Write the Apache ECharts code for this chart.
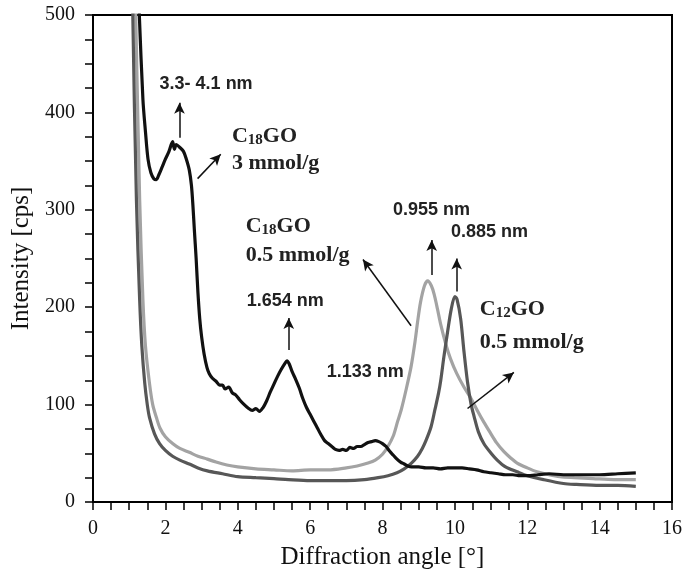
<!DOCTYPE html>
<html>
<head>
<meta charset="utf-8">
<script src="https://cdn.jsdelivr.net/npm/echarts@6/dist/echarts.min.js"></script>
<style>
html,body{margin:0;padding:0;background:#fff;}
#chart{width:685px;height:577px;}
</style>
</head>
<body>
<div id="chart"></div>
<script>
// ---- Data ----
// Black: C18GO 3 mmol/g
const blackX = [1.0,1.1,1.2,1.28,1.38,1.45,1.52,1.6,1.68,1.75,1.82,1.9,2.0,2.1,2.2,2.25,2.3,2.4,2.5,2.58,2.66,2.72,2.76,2.8,2.85,2.9,2.95,3.0,3.07,3.15,3.21,3.3,3.4,3.5,3.58,3.65,3.75,3.85,3.94,4.05,4.15,4.3,4.4,4.5,4.6,4.7,4.8,4.9,5.0,5.1,5.2,5.3,5.36,5.42,5.5,5.6,5.7,5.8,5.9,6.0,6.1,6.2,6.3,6.4,6.5,6.6,6.7,6.8,6.9,7.0,7.1,7.2,7.3,7.4,7.5,7.6,7.7,7.8,7.9,8.0,8.1,8.2,8.3,8.4,8.5,8.6,8.7,8.8,9.0,9.2,9.4,9.6,9.8,10.0,10.2,10.4,10.6,10.8,11.0,11.2,11.4,11.6,11.8,12.0,12.3,12.6,13.0,13.5,14.0,14.5,15.0];
const blackY = [750,700,580,500,413,380,352,338,332,331,336,343,352,360,370,362,367,364,360,352,341,325,305,280,250,215,188,170,152,138,132,127,124,120,120,116,118,112,110,105,101,96,94,96,93,97,104,113,121,129,136,142,145,142,134,126,117,106,97,90,83,76,69,63,60,57,54,53,54,53,56,55,57,57,59,61,62,63,62,60,57,52,48,44,41,39,37,36,36,35,35,34,35,35,35,34,33,31,30,29,28,28,27,27,28,29,28,28,28,29,30];

// Light grey: C18GO 0.5 mmol/g
const lightX = [1.0,1.1,1.18,1.29,1.38,1.45,1.56,1.65,1.75,1.85,2.0,2.2,2.4,2.66,2.9,3.16,3.4,3.7,4.0,4.5,5.0,5.5,6.0,6.5,7.0,7.3,7.6,7.8,8.0,8.15,8.3,8.42,8.52,8.65,8.79,8.9,8.97,9.05,9.16,9.25,9.35,9.43,9.52,9.61,9.75,9.88,10.05,10.25,10.45,10.62,10.8,10.98,11.15,11.35,11.55,11.72,12.0,12.27,12.6,12.9,13.3,13.82,14.4,15.0];
const lightY = [900,640,500,310,207,160,122,100,87,76,67,60,55,51,47,44,41,38,36,34,33,32,33,33,35,37,40,43,49,57,68,83,95,115,139,165,185,205,222,227,222,213,198,182,162,147,132,118,106,94,82,71,61,52,45,40,35,31,28,26,25,24,23,23];

// Dark grey: C12GO 0.5 mmol/g
const darkX = [1.0,1.1,1.2,1.29,1.35,1.43,1.5,1.56,1.7,1.84,2.0,2.2,2.4,2.66,2.9,3.16,3.58,4.0,4.5,5.0,5.4,6.0,6.5,7.0,7.5,7.88,8.15,8.4,8.6,8.8,8.97,9.1,9.2,9.34,9.45,9.55,9.61,9.7,9.8,9.9,10.0,10.06,10.16,10.25,10.35,10.45,10.53,10.65,10.8,11.0,11.17,11.4,11.72,12.0,12.45,13.0,13.36,14.0,14.5,15.0];
const darkY = [780,500,310,207,160,122,100,87,70,60,53,47,43,39,35,32,29,26,25,24,23,22,22,22,23,25,27,30,34,40,47,55,63,77,95,112,125,150,175,198,211,208,188,155,123,100,88,72,60,50,43,36,31,27,23,19,18,17,17,16];

// Axis ticks: tick step and labelled step
const xTicks = {min: 0, max: 16, tickStep: 0.5, labelStep: 2};
const yTicks = {min: 0, max: 500, tickStep: 25, labelStep: 100};

// Annotation texts: [text, xLeft, yMiddle, kind]
const annoTexts = [
  ['3.3- 4.1 nm', 1.84, 429, 'nm'],
  ['C{s|18}GO', 3.84, 375, 'name'],
  ['3 mmol/g', 3.84, 348, 'name'],
  ['C{s|18}GO', 4.22, 283, 'name'],
  ['0.5 mmol/g', 4.22, 253, 'name'],
  ['1.654 nm', 4.25, 206, 'nm'],
  ['1.133 nm', 6.46, 133, 'nm'],
  ['0.955 nm', 8.29, 300, 'nm'],
  ['0.885 nm', 9.89, 277, 'nm'],
  ['C{s|12}GO', 10.69, 198, 'name'],
  ['0.5 mmol/g', 10.69, 164, 'name']
];
// Annotation arrows: [x1, y1, x2, y2] (tail -> head)
const annoArrows = [
  [2.39, 374, 2.39, 410],
  [2.89, 332, 3.53, 357],
  [8.79, 181, 7.46, 249],
  [5.41, 156, 5.41, 189],
  [9.36, 233, 9.36, 269],
  [10.05, 216, 10.05, 250],
  [10.35, 96, 11.63, 133]
];

const pairs = (xs, ys) => xs.map((x, i) => [x, ys[i]]);

const serif = 'Liberation Serif, Times New Roman, serif';
const sans = 'Liberation Sans, Arial, sans-serif';

const chart = echarts.init(document.getElementById('chart'), null, {renderer: 'canvas'});

function labelEvery(step) {
  return function (v) {
    const r = v / step;
    return Math.abs(r - Math.round(r)) < 1e-6 ? String(Math.round(v * 1000) / 1000) : '';
  };
}

const axisCommon = {
  axisLine: {show: true, onZero: false, lineStyle: {color: '#000', width: 2}},
  axisTick: {show: true, inside: false, length: 8, lineStyle: {color: '#000', width: 1.5}},
  splitLine: {show: false}
};

const option = {
  animation: false,
  backgroundColor: '#fff',
  grid: {left: 93, right: 9, top: 15, bottom: 75, show: true, borderColor: '#000', borderWidth: 2, backgroundColor: 'transparent'},
  xAxis: Object.assign({
    type: 'value', min: xTicks.min, max: xTicks.max, interval: xTicks.tickStep,
    name: 'Diffraction angle [°]', nameLocation: 'middle', nameGap: 43,
    nameTextStyle: {fontFamily: serif, fontSize: 25, color: '#111'},
    axisLabel: {fontFamily: serif, fontSize: 20, color: '#111', margin: 17, formatter: labelEvery(xTicks.labelStep), showMinLabel: true, showMaxLabel: true}
  }, axisCommon),
  yAxis: Object.assign({
    type: 'value', min: yTicks.min, max: yTicks.max, interval: yTicks.tickStep,
    name: 'Intensity [cps]', nameLocation: 'middle', nameGap: 58,
    nameTextStyle: {fontFamily: serif, fontSize: 25, color: '#111'},
    axisLabel: {fontFamily: serif, fontSize: 20, color: '#111', margin: 18, formatter: labelEvery(yTicks.labelStep)}
  }, axisCommon),
  series: [
    {
      name: 'C18GO 0.5 mmol/g', type: 'line', data: pairs(lightX, lightY),
      showSymbol: false, symbol: 'none', smooth: 0.3, clip: true,
      lineStyle: {color: '#a3a3a3', width: 3.2}, z: 2
    },
    {
      name: 'C12GO 0.5 mmol/g', type: 'line', data: pairs(darkX, darkY),
      showSymbol: false, symbol: 'none', smooth: 0.3, clip: true,
      lineStyle: {color: '#575757', width: 3.2}, z: 3
    },
    {
      name: 'C18GO 3 mmol/g', type: 'line', data: pairs(blackX, blackY),
      showSymbol: false, symbol: 'none', smooth: 0.3, clip: true,
      lineStyle: {color: '#111', width: 3.2}, z: 4,
      markLine: {
        silent: true, animation: false,
        symbol: ['none', 'arrow'], symbolSize: [8, 11],
        lineStyle: {color: '#111', width: 1.5, type: 'solid'},
        label: {show: false},
        emphasis: {disabled: true},
        data: annoArrows.map(a => [{coord: [a[0], a[1]]}, {coord: [a[2], a[3]]}])
      },
      markPoint: {
        silent: true, animation: false,
        symbol: 'circle', symbolSize: 0,
        data: annoTexts.map(t => ({
          coord: [t[1], t[2]], name: t[0],
          label: t[3] === 'nm'
            ? {show: true, position: [0, 0], align: 'left', verticalAlign: 'middle', formatter: '{b}',
               fontFamily: sans, fontWeight: 'bold', fontSize: 18, color: '#222'}
            : {show: true, position: [0, 0], align: 'left', verticalAlign: 'middle', formatter: '{b}',
               fontFamily: serif, fontWeight: 'bold', fontSize: 22, color: '#222',
               rich: {s: {fontFamily: serif, fontWeight: 'bold', fontSize: 15, color: '#222', verticalAlign: 'bottom', lineHeight: 15}}}
        }))
      }
    }
  ]
};

chart.setOption(option);
</script>
</body>
</html>
